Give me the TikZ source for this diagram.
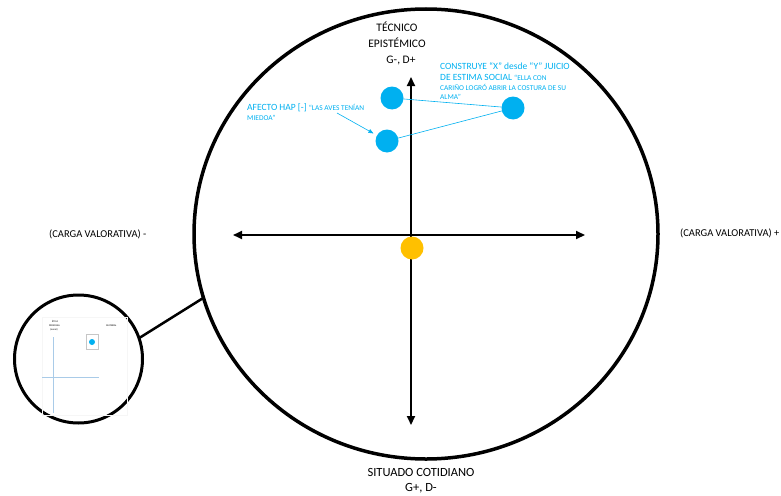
\documentclass[tikz,border=0pt]{standalone}
\usepackage{fontspec}
\setmainfont{Carlito}
\usetikzlibrary{arrows.meta,shapes.geometric}
\definecolor{cblue}{HTML}{00B0F0}
\definecolor{corange}{HTML}{FFC000}
\definecolor{faintblue}{HTML}{A9CBE8}
\tikzset{
  axis/.style={line width=2pt,{Triangle[length=9pt,width=8pt]}-{Triangle[length=9pt,width=8pt]}},
  bdot/.style={circle,fill=cblue,inner sep=0pt,outer sep=0pt,minimum size=23pt},
  odot/.style={circle,fill=corange,inner sep=0pt,outer sep=0pt,minimum size=23pt},
  blab/.style={inner sep=0pt,anchor=base west,text=cblue},
  klab/.style={inner sep=0pt,anchor=base,font=\fontsize{11.5}{13}\selectfont},
  blab2/.style={inner sep=0pt,anchor=base,font=\fontsize{12.5}{14}\selectfont},
  sidelab/.style={inner sep=0pt,anchor=base west,font=\fontsize{10.5}{12}\selectfont},
  bigfont/.style={font=\fontsize{9.5}{10}\selectfont},
  tiny/.style={inner sep=0pt,anchor=base west,font=\fontsize{2.5}{3}\selectfont},
}
\newcommand{\smallq}[1]{{\fontsize{7.4}{8}\selectfont #1}}
\begin{document}
\begin{tikzpicture}[x=1pt,y=-1pt]
\useasboundingbox (0,0) rectangle (781,495);
% big circle
\node[ellipse,draw,line width=3.5pt,inner sep=0pt,outer sep=0pt,minimum width=464pt,minimum height=450pt] (big) at (426,234) {};
% small circle
\node[circle,draw,line width=3pt,inner sep=0pt,outer sep=0pt,minimum size=128pt] (small) at (78.5,359) {};
\draw[line width=2.5pt] (small.19) -- (big.196);
% inside small circle
\node[draw=gray!7,line width=0.4pt,inner sep=0pt,minimum width=85pt,minimum height=98pt] (snap) at (84.5,366) {};
\coordinate (cvt) at (53,337);
\coordinate (cvb) at (53,413);
\coordinate (chl) at (42,377);
\coordinate (chr) at (99,377);
\draw[faintblue,line width=0.5pt] (cvt) -- (cvb);
\draw[faintblue,line width=0.5pt] (chl) -- (chr);
\node[draw=gray!45,line width=0.5pt,inner sep=0pt,minimum width=12pt,minimum height=15pt] (sbox) at (92,341.5) {};
\node[circle,fill=cblue,inner sep=0pt,minimum size=6pt] (sdot) at (92,342) {};
\node[tiny] (t1) at (52,322) {ÉTICA};
\node[tiny] (t2) at (49,326) {PERSONAL};
\node[tiny] (t3) at (50,330) {(moral)};
\node[tiny] (t4) at (106,326) {MATERIAL};
% axes
\coordinate (vt) at (411,77);
\coordinate (vb) at (411,425);
\coordinate (hl) at (233,235);
\coordinate (hr) at (585,235);
\draw[axis] (vb) -- (vt);
\draw[axis] (hl) -- (hr);
% dots
\node[odot] (o1) at (412,248) {};
\node[bdot] (d1) at (392,98) {};
\node[bdot] (d2) at (387,141) {};
\node[bdot] (d3) at (513,108) {};
\draw[cblue,line width=0.6pt] (d1) -- (d3);
\draw[cblue,line width=0.6pt] (d3) -- (d2);
% labels
\node[klab] (top1) at (397,32) {TÉCNICO};
\node[klab] (top2) at (397,48) {EPISTÉMICO};
\node[klab] (top3) at (401,63.5) {G-, D+};
\node[blab2] (bot1) at (421,476.5) {SITUADO COTIDIANO};
\node[blab2] (bot2) at (421,491.5) {G+, D-};
\node[sidelab] (left) at (49,237.5) {(CARGA VALORATIVA) -};
\node[sidelab] (right) at (680,236) {(CARGA VALORATIVA) +};
% blue annotations
\node[blab,bigfont] (c1) at (440,69.5) {CONSTRUYE “X” desde “Y” JUICIO};
\node[blab,bigfont] (c2) at (440,80) {DE ESTIMA SOCIAL \smallq{“ELLA CON}};
\node[blab] (c3) at (440,90.5) {\smallq{CARIÑO LOGRÓ ABRIR LA COSTURA DE SU}};
\node[blab] (c4) at (440,99.5) {\smallq{ALMA”}};
\node[blab,bigfont] (a1) at (247,110.5) {AFECTO HAP [-] \smallq{“LAS AVES TENÍAN}};
\node[blab] (a2) at (247,120) {\smallq{MIEDOA”}};
\coordinate (a0) at (337,113);
\draw[cblue,line width=0.6pt,-{Triangle[length=5pt,width=4pt]},shorten >=4pt] (a0) -- (d2);
\end{tikzpicture}
\end{document}
